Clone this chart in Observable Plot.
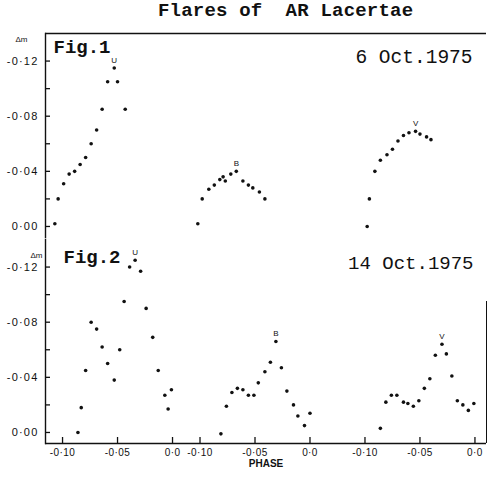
<!DOCTYPE html>
<html><head><meta charset="utf-8">
<script src="https://cdn.jsdelivr.net/npm/d3@7"></script>
<script src="https://cdn.jsdelivr.net/npm/@observablehq/plot@0.6"></script>
<style>
body{margin:0;background:#fff;}
#title{height:26px;line-height:38px;overflow:visible;font:bold 19px "Liberation Mono",monospace;padding-left:158px;white-space:pre;color:#111;letter-spacing:0.2px;}
g[aria-label="y-axis tick label"] text{letter-spacing:1.2px;}
g[aria-label="x-axis tick label"] text{letter-spacing:0.4px;}
</style></head><body>
<div id="title">Flares of  AR Lacertae</div>
<div id="chart"></div>
<script>
// [phase, Δm]
const fig1U = [[-0.107,-0.002],[-0.104,-0.020],[-0.099,-0.031],[-0.094,-0.038],[-0.089,-0.040],[-0.084,-0.045],[-0.079,-0.050],[-0.074,-0.060],[-0.069,-0.070],[-0.064,-0.085],[-0.059,-0.105],[-0.053,-0.115],[-0.050,-0.105],[-0.043,-0.085]];
const fig1B = [[-0.102,-0.002],[-0.098,-0.020],[-0.092,-0.027],[-0.087,-0.030],[-0.082,-0.034],[-0.079,-0.036],[-0.077,-0.033],[-0.072,-0.038],[-0.067,-0.040],[-0.061,-0.033],[-0.056,-0.030],[-0.052,-0.028],[-0.046,-0.025],[-0.041,-0.020]];
const fig1V = [[-0.098,0.000],[-0.096,-0.020],[-0.091,-0.040],[-0.086,-0.048],[-0.080,-0.052],[-0.075,-0.056],[-0.070,-0.062],[-0.065,-0.066],[-0.060,-0.068],[-0.054,-0.069],[-0.050,-0.067],[-0.044,-0.065],[-0.040,-0.063]];
const fig2U = [[-0.086,0.000],[-0.083,-0.018],[-0.079,-0.045],[-0.074,-0.080],[-0.069,-0.075],[-0.064,-0.062],[-0.059,-0.050],[-0.053,-0.038],[-0.048,-0.060],[-0.044,-0.095],[-0.039,-0.120],[-0.034,-0.125],[-0.029,-0.117],[-0.024,-0.090],[-0.018,-0.069],[-0.013,-0.045],[-0.007,-0.027],[-0.004,-0.017],[-0.001,-0.031]];
const fig2B = [[-0.081,0.001],[-0.076,-0.019],[-0.071,-0.029],[-0.066,-0.032],[-0.061,-0.031],[-0.056,-0.027],[-0.051,-0.027],[-0.047,-0.036],[-0.041,-0.044],[-0.036,-0.051],[-0.031,-0.066],[-0.026,-0.047],[-0.021,-0.030],[-0.015,-0.020],[-0.011,-0.012],[-0.005,-0.005],[0.000,-0.014]];
const fig2V = [[-0.086,-0.003],[-0.081,-0.022],[-0.076,-0.027],[-0.071,-0.027],[-0.065,-0.022],[-0.061,-0.021],[-0.056,-0.019],[-0.051,-0.023],[-0.046,-0.032],[-0.041,-0.039],[-0.036,-0.056],[-0.030,-0.064],[-0.026,-0.057],[-0.021,-0.041],[-0.016,-0.023],[-0.011,-0.020],[-0.006,-0.016],[-0.001,-0.021]];

const panels = ["Fig.1", "Fig.2"];
const dates = ["6 Oct.1975", "14 Oct.1975"];
const bands = ["U", "B", "V"];
const bandOffset = {U: 0, B: 0.125, V: 0.275};   // broken phase axis: three sub-axes side by side
const tickPhases = [-0.10, -0.05, 0.0];
const tickLabels = ["-0·10", "-0·05", "0·0"];
const yTicksMajor = [-0.12, -0.08, -0.04, 0.00];
const yTickLabels = ["-0·12", "-0·08", "-0·04", "0·00"];
const yTicksMinor = [-0.10, -0.06, -0.02];
const xDomain = [-0.1155, 0.2855];
const yDomain = [0.008, -0.14];

const series = [
  {fig: "Fig.1", band: "U", pts: fig1U}, {fig: "Fig.1", band: "B", pts: fig1B}, {fig: "Fig.1", band: "V", pts: fig1V},
  {fig: "Fig.2", band: "U", pts: fig2U}, {fig: "Fig.2", band: "B", pts: fig2B}, {fig: "Fig.2", band: "V", pts: fig2V}
];
const points = series.flatMap(s => s.pts.map(([phase, dm]) => ({fig: s.fig, band: s.band, pos: phase + bandOffset[s.band], dm})));
const peaks = series.map(s => {
  const [phase, dm] = s.pts.reduce((a, b) => (b[1] < a[1] ? b : a));
  return {fig: s.fig, band: s.band, pos: phase + bandOffset[s.band], dm};
});
const xTicks = bands.flatMap(b => tickPhases.map((p, i) => ({pos: +(p + bandOffset[b]).toFixed(4), label: tickLabels[i]})));
const xLabelOf = new Map(xTicks.map(d => [d.pos, d.label]));
const yLabelOf = new Map(yTicksMajor.map((v, i) => [v, yTickLabels[i]]));

const mono = "'Liberation Mono', monospace";
const ink = "#111";

const chart = Plot.plot({
  width: 488, height: 459,
  marginLeft: 45, marginRight: 2, marginTop: 7, marginBottom: 42,
  x: {domain: xDomain},
  y: {domain: yDomain},
  fy: {domain: panels, paddingInner: 0.0098, paddingOuter: 0, axis: null},
  style: {fontFamily: "'Liberation Sans', Arial, sans-serif", color: ink, background: "#fff"},
  marks: [
    Plot.frame({anchor: "left", stroke: ink, strokeWidth: 1.4}),
    Plot.ruleY([yDomain[1]], {fy: ["Fig.1"], stroke: ink, strokeWidth: 1.4}),
    Plot.ruleY([yDomain[0]], {fy: ["Fig.2"], stroke: ink, strokeWidth: 1.4}),
    Plot.ruleX([xDomain[1]], {fy: ["Fig.2"], y1: -0.095, y2: yDomain[0], stroke: ink, strokeWidth: 1}),
    Plot.axisY({ticks: [...yTicksMajor, ...yTicksMinor], tickSize: -5, fill: "none", label: null, stroke: ink, strokeWidth: 1.3}),
    Plot.axisY({ticks: yTicksMajor, tickSize: 0, tickPadding: 7, tickFormat: d => yLabelOf.get(d), label: null, fontSize: 11, fill: ink}),
    Plot.axisX({ticks: xTicks.map(d => d.pos), tickSize: -6, fill: "none", label: null, stroke: ink, strokeWidth: 1.3}),
    Plot.axisX({ticks: xTicks.map(d => d.pos), tickSize: 0, tickPadding: 5, tickFormat: d => xLabelOf.get(+d.toFixed(4)), label: null, fontSize: 10, fill: ink}),
    Plot.dot(points, {x: "pos", y: "dm", fy: "fig", r: 1.8, fill: ink, stroke: null}),
    Plot.text(peaks, {x: "pos", y: "dm", fy: "fig", text: "band", dy: -8, fontSize: 8, fill: ink}),
    Plot.text(["Δm"], {fy: ["Fig.1"], frameAnchor: "top-left", dx: -18, dy: 3, textAnchor: "end", fontSize: 8, fill: ink}),
    Plot.text(["Δm"], {fy: ["Fig.2"], frameAnchor: "top-left", dx: -3, dy: 13, textAnchor: "end", fontSize: 8, fill: ink}),
    Plot.text([panels[0]], {fy: ["Fig.1"], frameAnchor: "top-left", dx: 8, dy: 19, lineAnchor: "bottom", fontFamily: mono, fontWeight: "bold", fontSize: 19, fill: ink}),
    Plot.text([panels[1]], {fy: ["Fig.2"], frameAnchor: "top-left", dx: 18, dy: 23, lineAnchor: "bottom", fontFamily: mono, fontWeight: "bold", fontSize: 19, fill: ink}),
    Plot.text([dates[0]], {fy: ["Fig.1"], frameAnchor: "top-right", dx: -14, dy: 29, lineAnchor: "bottom", textAnchor: "end", fontFamily: mono, fontSize: 19.5, fill: ink}),
    Plot.text([dates[1]], {fy: ["Fig.2"], frameAnchor: "top-right", dx: -13, dy: 29, lineAnchor: "bottom", textAnchor: "end", fontFamily: mono, fontSize: 19, fill: ink}),
    Plot.text(["PHASE"], {fy: ["Fig.2"], frameAnchor: "bottom", dy: 23, fontWeight: "bold", fontSize: 10, fill: ink})
  ]
});
document.getElementById("chart").appendChild(chart);
</script></body></html>
